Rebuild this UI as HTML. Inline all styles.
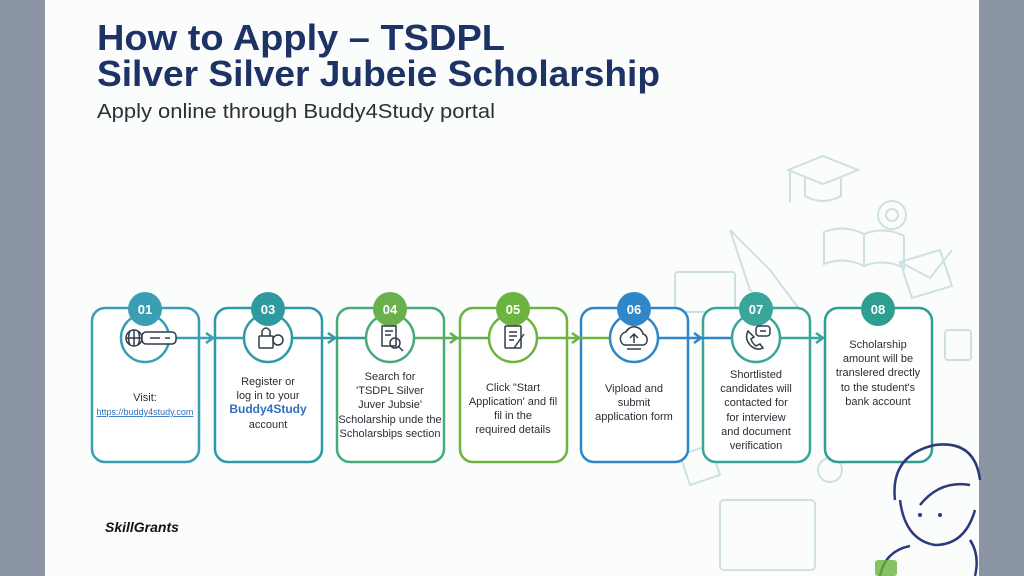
<!DOCTYPE html>
<html><head><meta charset="utf-8"><style>
html,body{margin:0;padding:0;background:#8a94a3;}
svg{display:block}
text{font-family:"Liberation Sans",Arial,sans-serif}
</style></head><body>
<svg width="1024" height="576" viewBox="0 0 1024 576" xmlns="http://www.w3.org/2000/svg">
<rect x="0" y="0" width="1024" height="576" fill="#8b95a4"/>
<rect x="45" y="0" width="934" height="576" fill="#fbfcfc"/>
<!-- decorative sketch -->
<g fill="none" stroke="#c9dfe0" stroke-width="2" opacity="0.9">
<path d="M788 170 l35 -14 l35 14 l-35 14 z M805 178 v18 q18 10 36 0 v-18 M790 172 v30"/>
<circle cx="892" cy="215" r="14"/><circle cx="892" cy="215" r="6"/>
<path d="M824 232 q20 -8 40 2 v32 q-20 -10 -40 -2 z M864 234 q20 -8 40 2 v32 q-20 -10 -40 -2 z"/>
<path d="M730 230 l40 40 l30 40 l-10 10 l-40 -30 z"/>
<path d="M900 262 l40 -12 l12 36 l-40 12 z M900 262 l30 16 l22 -28"/>
<rect x="675" y="272" width="60" height="40" rx="3"/>
<rect x="945" y="330" width="26" height="30" rx="3"/>
<rect x="720" y="500" width="95" height="70" rx="4"/>
<path d="M680 455 l30 -10 l10 30 l-30 10 z"/>
<circle cx="830" cy="470" r="12"/>
</g>
<!-- title -->
<g fill="#1d3366" font-weight="bold">
<text x="97" y="50" font-size="36" textLength="408" lengthAdjust="spacingAndGlyphs">How to Apply – TSDPL</text>
<text x="97" y="86" font-size="36" textLength="563" lengthAdjust="spacingAndGlyphs">Silver Silver Jubeie Scholarship</text>
</g>
<text x="97" y="118" font-size="20" fill="#2b2f38" textLength="398" lengthAdjust="spacingAndGlyphs">Apply online through Buddy4Study portal</text>

<!-- boxes -->
<g stroke-width="2.5" fill="#fff">
<rect x="92" y="308" width="107" height="154" rx="13" stroke="#3a9fb5"/>
<rect x="215" y="308" width="107" height="154" rx="13" stroke="#2e9aa5"/>
<rect x="337" y="308" width="107" height="154" rx="13" stroke="#4aa97a"/>
<rect x="460" y="308" width="107" height="154" rx="13" stroke="#6cb33f"/>
<rect x="581" y="308" width="107" height="154" rx="13" stroke="#2f86c8"/>
<rect x="703" y="308" width="107" height="154" rx="13" stroke="#3aa59a"/>
<rect x="825" y="308" width="107" height="154" rx="13" stroke="#2e9e90"/>
</g>
<!-- connectors -->
<g stroke-width="2.5" fill="none">
<line x1="169" y1="338" x2="244" y2="338" stroke="#3a9fb5"/>
<line x1="292" y1="338" x2="366" y2="338" stroke="#2e9aa5"/>
<line x1="414" y1="338" x2="489" y2="338" stroke="#5aae56"/>
<line x1="537" y1="338" x2="610" y2="338" stroke="#6cb33f"/>
<line x1="658" y1="338" x2="732" y2="338" stroke="#2f86c8"/>
<line x1="780" y1="338" x2="823" y2="338" stroke="#3aa59a"/>
<path d="M206 333 l7 5 l-7 5" stroke="#3a9fb5"/>
<path d="M328 333 l7 5 l-7 5" stroke="#2e9aa5"/>
<path d="M450 333 l7 5 l-7 5" stroke="#5aae56"/>
<path d="M572 333 l7 5 l-7 5" stroke="#6cb33f"/>
<path d="M694 333 l7 5 l-7 5" stroke="#2f86c8"/>
<path d="M816 333 l7 5 l-7 5" stroke="#3aa59a"/>
</g>
<!-- icon circles -->
<g stroke-width="2.5" fill="#fff">
<circle cx="145" cy="338" r="24" stroke="#3a9fb5"/>
<circle cx="268" cy="338" r="24" stroke="#2e9aa5"/>
<circle cx="390" cy="338" r="24" stroke="#4aa97a"/>
<circle cx="513" cy="338" r="24" stroke="#6cb33f"/>
<circle cx="634" cy="338" r="24" stroke="#2f86c8"/>
<circle cx="756" cy="338" r="24" stroke="#3aa59a"/>
</g>
<!-- badges -->
<g>
<circle cx="145" cy="309" r="17" fill="#3a9fb5"/>
<circle cx="268" cy="309" r="17" fill="#2e9aa0"/>
<circle cx="390" cy="309" r="17" fill="#6ab04c"/>
<circle cx="513" cy="309" r="17" fill="#6cb33f"/>
<circle cx="634" cy="309" r="17" fill="#2f86c8"/>
<circle cx="756" cy="309" r="17" fill="#3aa59a"/>
<circle cx="878" cy="309" r="17" fill="#2e9e90"/>
</g>
<g fill="#fff" font-size="13" font-weight="bold" text-anchor="middle">
<text x="145" y="314">01</text><text x="268" y="314">03</text><text x="390" y="314">04</text>
<text x="513" y="314">05</text><text x="634" y="314">06</text><text x="756" y="314">07</text><text x="878" y="314">08</text>
</g>
<!-- icons -->
<g fill="none" stroke="#333b4a" stroke-width="1.5">
<circle cx="134" cy="338" r="8"/><path d="M126 338 h16 M134 330 v16 M130 331 q-3 7 0 14 M138 331 q3 7 0 14"/>
<rect x="142" y="332" width="34" height="12" rx="4" fill="#fff"/><path d="M150 338 h10 M165 338 h5"/>
<rect x="259" y="336" width="14" height="12" rx="1"/><path d="M262 336 v-5 q4 -6 8 0 v5"/><circle cx="278" cy="340" r="5"/>
<rect x="382" y="326" width="14" height="20"/><circle cx="395" cy="343" r="5"/><path d="M399 347 l4 4 M385 331 h8 M385 335 h6"/>
<rect x="505" y="326" width="16" height="22" rx="1"/><path d="M509 332 h8 M509 336 h8 M509 340 h5 M514 348 l10 -14"/>
<path d="M624 345 a7 7 0 0 1 2 -13 a9 9 0 0 1 17 2 a6 6 0 0 1 1 11 z M634 343 v-9 M630 338 l4 -4 l4 4 M627 349 h14"/>
<path d="M748 331 q-4 8 3 15 q6 5 12 2 l-3 -4 l-4 2 q-4 -3 -5 -7 l3 -2 z"/><rect x="756" y="326" width="14" height="10" rx="3"/><path d="M760 331 h6"/>
</g>
<!-- text -->
<g font-size="11" fill="#2a2e36" text-anchor="middle">
<text x="145" y="401">Visit:</text>
<text x="145" y="415" font-size="9" fill="#2e6fc0" text-decoration="underline">https://buddy4study.com</text>
<text x="268" y="385">Register or</text><text x="268" y="399">log in to your</text>
<text x="268" y="413" font-weight="bold" font-size="12" fill="#2e6fc0">Buddy4Study</text>
<text x="268" y="428">account</text>
<text x="390" y="380">Search for</text><text x="390" y="394">'TSDPL Silver</text><text x="390" y="408">Juver Jubsie'</text>
<text x="390" y="423">Scholarship unde the</text><text x="390" y="437">Scholarsbips section</text>
<text x="513" y="391">Click "Start</text><text x="513" y="405">Application' and fil</text><text x="513" y="419">fil in the</text><text x="513" y="433">required details</text>
<text x="634" y="392">Vipload and</text><text x="634" y="406">submit</text><text x="634" y="420">application form</text>
<text x="756" y="378">Shortlisted</text><text x="756" y="392">candidates will</text><text x="756" y="406">contacted for</text>
<text x="756" y="421">for interview</text><text x="756" y="435">and document</text><text x="756" y="449">verification</text>
<text x="878" y="348">Scholarship</text><text x="878" y="362">amount will be</text><text x="878" y="376">translered drectly</text>
<text x="878" y="391">to the student's</text><text x="878" y="405">bank account</text>
</g>
<!-- girl -->
<g fill="none" stroke="#2b3a7a" stroke-width="2.5">
<path d="M895 500 q-5 -45 40 -55 q40 -5 45 35"/>
<path d="M900 500 q5 40 35 45 q30 0 40 -35"/>
<path d="M880 576 q5 -25 30 -30 M970 540 q10 15 5 36"/>
<path d="M920 505 q20 -25 50 -20"/>
</g>
<circle cx="920" cy="515" r="2" fill="#2b3a7a"/><circle cx="940" cy="515" r="2" fill="#2b3a7a"/>
<rect x="875" y="560" width="22" height="16" rx="3" fill="#6cb33f" opacity="0.8"/>
<text x="105" y="532" font-size="14" font-weight="bold" font-style="italic" fill="#111" font-family="Liberation Serif, serif">SkillGrants</text>
</svg>
</body></html>
